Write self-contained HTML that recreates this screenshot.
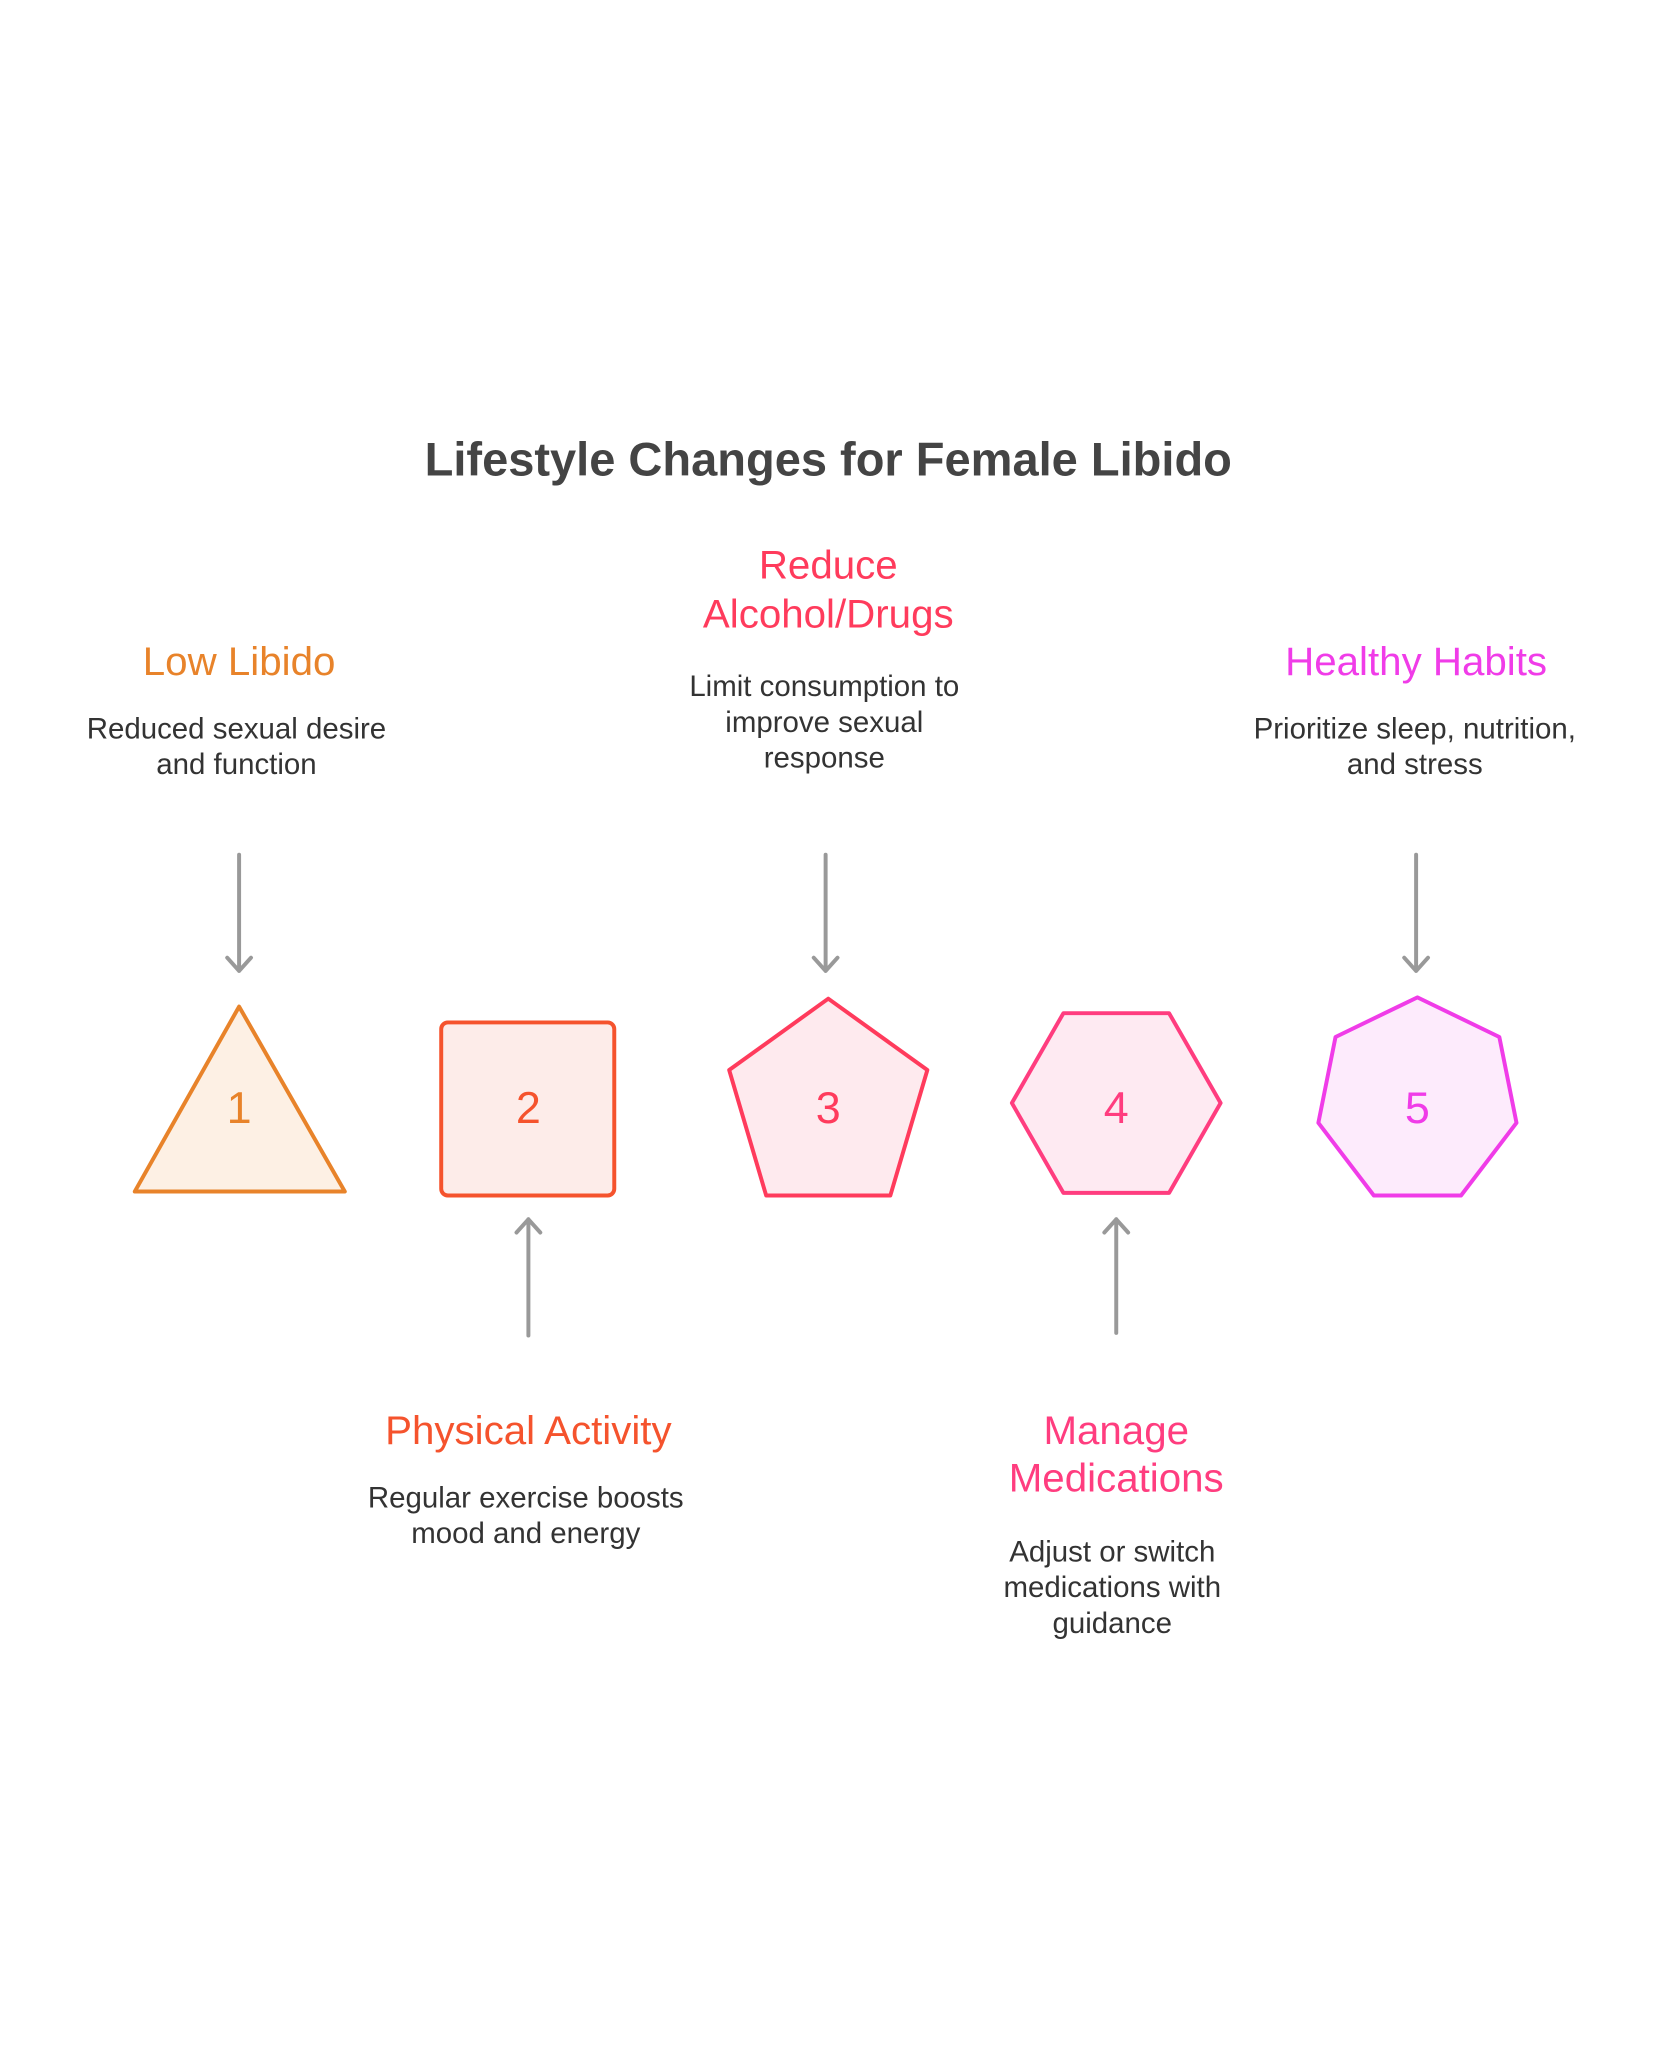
<!DOCTYPE html>
<html><head><meta charset="utf-8"><style>
html,body{margin:0;padding:0;background:#fff;}
svg{display:block}
text{font-family:"Liberation Sans",sans-serif;}
</style></head><body>
<svg width="1656" height="2070" viewBox="0 0 1253.6 1567" preserveAspectRatio="none" xmlns="http://www.w3.org/2000/svg">
<rect width="1253.6" height="1567" fill="#fff"/>
<text x="627" y="360" text-anchor="middle" font-size="35.6" font-weight="bold" fill="#444">Lifestyle Changes for Female Libido</text>

<g font-size="30.5" text-anchor="middle">
<text x="181" y="511" fill="#E8832A">Low Libido</text>
<text x="627" y="438" fill="#FF3B5C">Reduce</text>
<text x="627" y="475" fill="#FF3B5C">Alcohol/Drugs</text>
<text x="1072" y="511" fill="#F03CE8">Healthy Habits</text>
<text x="400" y="1093" fill="#F5532D">Physical Activity</text>
<text x="845" y="1093" fill="#FF3D7F">Manage</text>
<text x="845" y="1129" fill="#FF3D7F">Medications</text>
</g>
<g font-size="22.3" text-anchor="middle" fill="#333">
<text x="179" y="559">Reduced sexual desire</text>
<text x="179" y="586">and function</text>
<text x="624" y="527">Limit consumption to</text>
<text x="624" y="554">improve sexual</text>
<text x="624" y="581">response</text>
<text x="1071" y="559">Prioritize sleep, nutrition,</text>
<text x="1071" y="586">and stress</text>
<text x="398" y="1141">Regular exercise boosts</text>
<text x="398" y="1168">mood and energy</text>
<text x="842" y="1182">Adjust or switch</text>
<text x="842" y="1209">medications with</text>
<text x="842" y="1236">guidance</text>
</g>

<g stroke="#999" stroke-width="3" fill="none" stroke-linecap="round" stroke-linejoin="round">
<path d="M181 647V735M172 725L181 735L190 725"/>
<path d="M625 647V735M616 725L625 735L634 725"/>
<path d="M1072 647V735M1063 725L1072 735L1081 725"/>
<path d="M400 1011V923M391 933L400 923L409 933"/>
<path d="M845 1009V923M836 933L845 923L854 933"/>
</g>

<g stroke-width="3" stroke-linejoin="round">
<path d="M181 762L261 902H102Z" fill="#FDF0E4" stroke="#E8832A"/>
<rect x="334" y="774" width="131" height="131" rx="5" fill="#FDECE9" stroke="#F5532D"/>
<path d="M627 756L702 810L674 905H580L552 810Z" fill="#FEEAEE" stroke="#FF3B5C"/>
<path d="M766 835L805 767H885L924 835L885 903H805Z" fill="#FEEAF2" stroke="#FF3D7F"/>
<path d="M1073 755L1135 785L1148 850L1106 905H1040L998 850L1011 785Z" fill="#FDEBFC" stroke="#F03CE8"/>
</g>
<g font-size="34" text-anchor="middle">
<text x="181" y="850" fill="#E8832A">1</text>
<text x="400" y="850" fill="#F5532D">2</text>
<text x="627" y="850" fill="#FF3B5C">3</text>
<text x="845" y="850" fill="#FF3D7F">4</text>
<text x="1073" y="850" fill="#F03CE8">5</text>
</g>
</svg>
</body></html>
